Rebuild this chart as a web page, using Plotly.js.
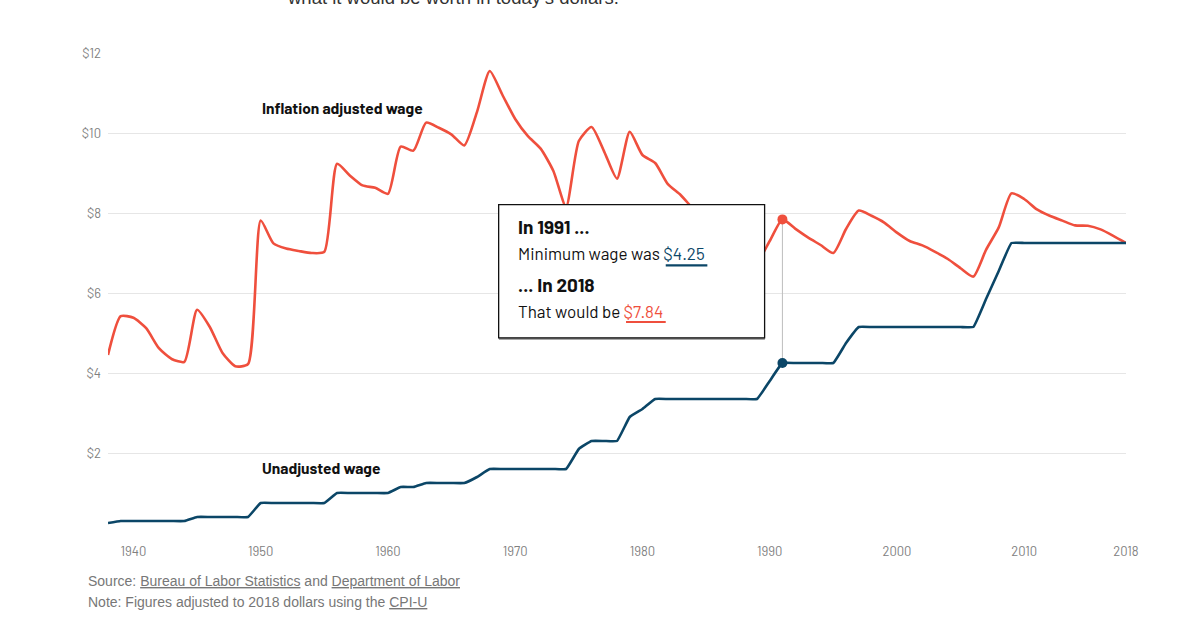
<!DOCTYPE html>
<html>
<head>
<meta charset="utf-8">
<script src="https://cdn.plot.ly/plotly-3.0.1.min.js"></script>
<style>
  html, body { margin: 0; padding: 0; background: #ffffff; }
  #chart { width: 1200px; height: 630px; }
</style>
</head>
<body>
<div id="chart"></div>
<script>
// ---- data ----
const years = [1938,1939,1940,1941,1942,1943,1944,1945,1946,1947,1948,1949,
  1950,1951,1952,1953,1954,1955,1956,1957,1958,1959,1960,1961,1962,1963,1964,
  1965,1966,1967,1968,1969,1970,1971,1972,1973,1974,1975,1976,1977,1978,1979,
  1980,1981,1982,1983,1984,1985,1986,1987,1988,1989,1990,1991,1992,1993,1994,
  1995,1996,1997,1998,1999,2000,2001,2002,2003,2004,2005,2006,2007,2008,2009,
  2010,2011,2012,2013,2014,2015,2016,2017,2018];

const unadjustedWage = [0.25,0.30,0.30,0.30,0.30,0.30,0.30,0.40,0.40,0.40,0.40,0.40,
  0.75,0.75,0.75,0.75,0.75,0.75,1.00,1.00,1.00,1.00,1.00,1.15,1.15,1.25,1.25,
  1.25,1.25,1.40,1.60,1.60,1.60,1.60,1.60,1.60,1.60,2.10,2.30,2.30,2.30,2.90,
  3.10,3.35,3.35,3.35,3.35,3.35,3.35,3.35,3.35,3.35,3.80,4.25,4.25,4.25,4.25,
  4.25,4.75,5.15,5.15,5.15,5.15,5.15,5.15,5.15,5.15,5.15,5.15,5.85,6.55,7.25,
  7.25,7.25,7.25,7.25,7.25,7.25,7.25,7.25,7.25];

const adjustedWage = [4.45,5.42,5.38,5.12,4.62,4.35,4.28,5.58,5.15,4.50,4.17,4.22,
  7.81,7.24,7.11,7.05,7.00,7.03,9.23,8.94,8.69,8.63,8.48,9.66,9.56,10.26,10.13,
  9.96,9.69,10.53,11.55,10.95,10.35,9.92,9.61,9.05,8.15,9.80,10.15,9.53,8.86,10.03,
  9.45,9.25,8.72,8.45,8.10,7.82,7.68,7.41,7.11,6.78,7.30,7.84,7.61,7.39,7.20,
  7.00,7.60,8.06,7.93,7.76,7.51,7.30,7.19,7.03,6.85,6.62,6.41,7.08,7.64,8.49,
  8.35,8.09,7.93,7.81,7.69,7.68,7.59,7.43,7.25];

const highlightYear = 1991;
const highlightUnadjusted = 4.25;
const highlightAdjusted = 7.84;

const xTickVals = [1940,1950,1960,1970,1980,1990,2000,2010,2018];
const xTickText = ['1940','1950','1960','1970','1980','1990','2000','2010','2018'];
const yTickVals = [0,2,4,6,8,10,12];
const yTickText = ['','$2','$4','$6','$8','$10','$12'];

// ---- styling ----
const RED = '#ef4f3d';
const BLUE = '#0b4667';
const COND = 'Barlow, "Roboto Condensed", "DejaVu Sans Condensed", Roboto, sans-serif';
const SANS = '"Liberation Sans", Arial, Helvetica, sans-serif';

const traces = [
  {
    x: years, y: adjustedWage, type: 'scatter', mode: 'lines',
    line: { color: RED, width: 2.6, shape: 'spline', smoothing: 0.6 },
    hoverinfo: 'skip'
  },
  {
    x: years, y: unadjustedWage, type: 'scatter', mode: 'lines',
    line: { color: BLUE, width: 2.6, shape: 'spline', smoothing: 0.3 },
    hoverinfo: 'skip'
  },
  {
    x: [highlightYear, highlightYear], y: [highlightUnadjusted, highlightAdjusted],
    type: 'scatter', mode: 'lines',
    line: { color: '#bdbdbd', width: 1 }, hoverinfo: 'skip'
  },
  {
    x: [highlightYear], y: [highlightAdjusted], type: 'scatter', mode: 'markers',
    marker: { color: RED, size: 10 }, hoverinfo: 'skip', cliponaxis: false
  },
  {
    x: [highlightYear], y: [highlightUnadjusted], type: 'scatter', mode: 'markers',
    marker: { color: BLUE, size: 10 }, hoverinfo: 'skip', cliponaxis: false
  }
];

const boxX0 = 1968.7, boxX1 = 1989.6, boxY0 = 4.88, boxY1 = 8.21;
const textX = 1970.06;

const layout = {
  width: 1200, height: 630,
  margin: { l: 108, r: 74, t: 53, b: 97 },
  paper_bgcolor: '#ffffff', plot_bgcolor: '#ffffff',
  showlegend: false,
  xaxis: {
    range: [1938, 2018], tickvals: xTickVals, ticktext: xTickText,
    showgrid: false, zeroline: false, showline: false, ticks: '',
    tickfont: { family: COND, size: 13, color: '#808080' },
    ticklabelstandoff: 9, fixedrange: true
  },
  yaxis: {
    range: [0, 12], tickvals: yTickVals, ticktext: yTickText,
    showgrid: true, gridcolor: '#e6e6e6', gridwidth: 1,
    zeroline: false, showline: false, ticks: '',
    tickfont: { family: COND, size: 13, color: '#808080' },
    ticklabelstandoff: 6, fixedrange: true
  },
  shapes: [
    { type: 'rect', xref: 'x', yref: 'y', x0: boxX0 + 0.02, x1: boxX1 + 0.02, y0: boxY0 - 0.05, y1: boxY1 - 0.05,
      fillcolor: '#8a8a8a', line: { width: 0 }, layer: 'above' },
    { type: 'rect', xref: 'x', yref: 'y', x0: boxX0, x1: boxX1, y0: boxY0, y1: boxY1,
      fillcolor: '#ffffff', line: { color: '#111111', width: 1.3 }, layer: 'above' },
    { type: 'line', xref: 'x', yref: 'y', x0: 1981.83, x1: 1985.1, y0: 6.69, y1: 6.69,
      line: { color: BLUE, width: 2.2 }, layer: 'above' },
    { type: 'line', xref: 'x', yref: 'y', x0: 1978.71, x1: 1981.83, y0: 5.275, y1: 5.275,
      line: { color: RED, width: 2.2 }, layer: 'above' }
  ],
  annotations: [
    { text: 'what it would be worth in today\u2019s dollars.', xref: 'paper', yref: 'paper',
      x: (285 - 108) / 1018, y: 1 + (53.3 + 2) / 480, xanchor: 'left', yanchor: 'middle',
      showarrow: false, font: { family: SANS, size: 18.5, color: '#333333' } },
    { text: '<b>Inflation adjusted wage</b>', xref: 'x', yref: 'y', x: 1949.95, y: 10.63,
      xanchor: 'left', yanchor: 'middle', showarrow: false,
      font: { family: COND, size: 15.5, color: '#111111' } },
    { text: '<b>Unadjusted wage</b>', xref: 'x', yref: 'y', x: 1949.95, y: 1.63,
      xanchor: 'left', yanchor: 'middle', showarrow: false,
      font: { family: COND, size: 15.5, color: '#111111' } },
    { text: '<b>In 1991 ...</b>', xref: 'x', yref: 'y', x: textX, y: 7.66,
      xanchor: 'left', yanchor: 'middle', showarrow: false,
      font: { family: COND, size: 19, color: '#111111' } },
    { text: 'Minimum wage was <span style="color:' + BLUE + '">$4.25</span>',
      xref: 'x', yref: 'y', x: textX, y: 7.01,
      xanchor: 'left', yanchor: 'middle', showarrow: false,
      font: { family: COND, size: 17, color: '#111111' } },
    { text: '<b>... In 2018</b>', xref: 'x', yref: 'y', x: textX, y: 6.21,
      xanchor: 'left', yanchor: 'middle', showarrow: false,
      font: { family: COND, size: 19, color: '#111111' } },
    { text: 'That would be <span style="color:' + RED + '">$7.84</span>',
      xref: 'x', yref: 'y', x: textX, y: 5.56,
      xanchor: 'left', yanchor: 'middle', showarrow: false,
      font: { family: COND, size: 17, color: '#111111' } },
    { text: 'Source: <u>Bureau of Labor Statistics</u> and <u>Department of Labor</u>',
      xref: 'paper', yref: 'paper', x: (86 - 108) / 1018, y: (533.3 - 581) / 480,
      xanchor: 'left', yanchor: 'middle', showarrow: false,
      font: { family: SANS, size: 14, color: '#777777' } },
    { text: 'Note: Figures adjusted to 2018 dollars using the <u>CPI-U</u>',
      xref: 'paper', yref: 'paper', x: (86 - 108) / 1018, y: (533.3 - 602) / 480,
      xanchor: 'left', yanchor: 'middle', showarrow: false,
      font: { family: SANS, size: 14, color: '#777777' } }
  ]
};

Plotly.newPlot('chart', traces, layout, { displayModeBar: false, staticPlot: true });
</script>
</body>
</html>
